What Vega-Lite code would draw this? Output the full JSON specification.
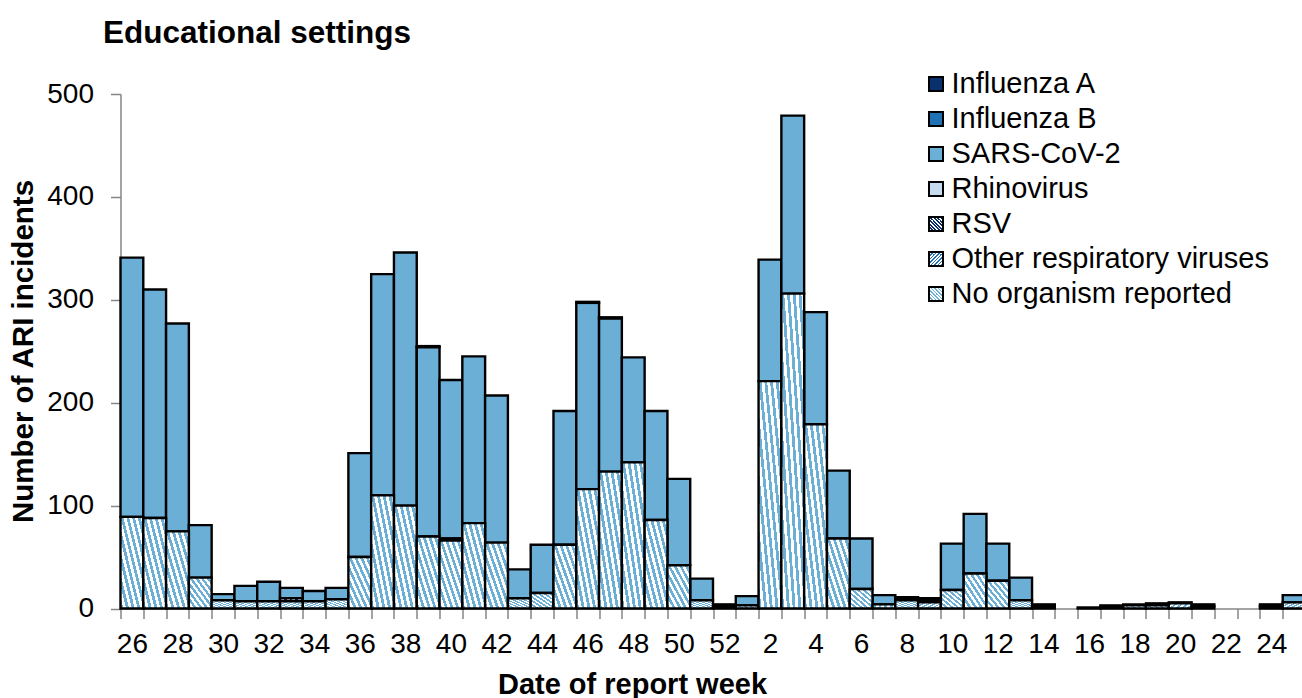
{
  "$schema": "https://vega.github.io/schema/vega-lite/v6.json",
  "autosize": {"type": "none"},
  "padding": {"left": 120.5, "top": 94, "right": 0, "bottom": 89.5},
  "width": 1185,
  "height": 514.5,
  "background": "white",
  "config": {"view": {"stroke": null}, "font": "Liberation Sans"},
  "title": {"text": "Educational settings", "anchor": "start", "frame": "group", "font": "Liberation Sans", "fontSize": 31.5, "fontWeight": "bold", "color": "#000000", "dx": -17.5, "offset": -4.5, "baseline": "alphabetic"},
  "datasets": {
    "ranks": [
      {"organism": "No organism reported", "rank": 1},
      {"organism": "Other respiratory viruses", "rank": 2},
      {"organism": "RSV", "rank": 3},
      {"organism": "Rhinovirus", "rank": 4},
      {"organism": "SARS-CoV-2", "rank": 5},
      {"organism": "Influenza B", "rank": 6},
      {"organism": "Influenza A", "rank": 7}
    ],
    "counts": [
      {"week": "26", "organism": "No organism reported", "n": 89}, {"week": "26", "organism": "SARS-CoV-2", "n": 252},
      {"week": "27", "organism": "No organism reported", "n": 88}, {"week": "27", "organism": "SARS-CoV-2", "n": 222},
      {"week": "28", "organism": "No organism reported", "n": 75}, {"week": "28", "organism": "SARS-CoV-2", "n": 202},
      {"week": "29", "organism": "No organism reported", "n": 30}, {"week": "29", "organism": "SARS-CoV-2", "n": 51},
      {"week": "30", "organism": "No organism reported", "n": 8}, {"week": "30", "organism": "SARS-CoV-2", "n": 6},
      {"week": "31", "organism": "No organism reported", "n": 7}, {"week": "31", "organism": "SARS-CoV-2", "n": 15},
      {"week": "32", "organism": "No organism reported", "n": 7}, {"week": "32", "organism": "SARS-CoV-2", "n": 19},
      {"week": "33", "organism": "No organism reported", "n": 7}, {"week": "33", "organism": "RSV", "n": 3}, {"week": "33", "organism": "SARS-CoV-2", "n": 10},
      {"week": "34", "organism": "No organism reported", "n": 7}, {"week": "34", "organism": "SARS-CoV-2", "n": 10},
      {"week": "35", "organism": "No organism reported", "n": 9}, {"week": "35", "organism": "SARS-CoV-2", "n": 11},
      {"week": "36", "organism": "No organism reported", "n": 50}, {"week": "36", "organism": "SARS-CoV-2", "n": 101},
      {"week": "37", "organism": "No organism reported", "n": 110}, {"week": "37", "organism": "SARS-CoV-2", "n": 215},
      {"week": "38", "organism": "No organism reported", "n": 100}, {"week": "38", "organism": "SARS-CoV-2", "n": 246},
      {"week": "39", "organism": "No organism reported", "n": 70}, {"week": "39", "organism": "SARS-CoV-2", "n": 184}, {"week": "39", "organism": "Influenza A", "n": 1},
      {"week": "40", "organism": "No organism reported", "n": 66}, {"week": "40", "organism": "Other respiratory viruses", "n": 2}, {"week": "40", "organism": "SARS-CoV-2", "n": 154},
      {"week": "41", "organism": "No organism reported", "n": 83}, {"week": "41", "organism": "SARS-CoV-2", "n": 162},
      {"week": "42", "organism": "No organism reported", "n": 64}, {"week": "42", "organism": "SARS-CoV-2", "n": 143},
      {"week": "43", "organism": "No organism reported", "n": 10}, {"week": "43", "organism": "SARS-CoV-2", "n": 28},
      {"week": "44", "organism": "No organism reported", "n": 15}, {"week": "44", "organism": "SARS-CoV-2", "n": 47},
      {"week": "45", "organism": "No organism reported", "n": 62}, {"week": "45", "organism": "SARS-CoV-2", "n": 130},
      {"week": "46", "organism": "No organism reported", "n": 116}, {"week": "46", "organism": "SARS-CoV-2", "n": 181}, {"week": "46", "organism": "Influenza A", "n": 1},
      {"week": "47", "organism": "No organism reported", "n": 133}, {"week": "47", "organism": "SARS-CoV-2", "n": 149}, {"week": "47", "organism": "Influenza A", "n": 1},
      {"week": "48", "organism": "No organism reported", "n": 142}, {"week": "48", "organism": "SARS-CoV-2", "n": 102},
      {"week": "49", "organism": "No organism reported", "n": 86}, {"week": "49", "organism": "SARS-CoV-2", "n": 106},
      {"week": "50", "organism": "No organism reported", "n": 42}, {"week": "50", "organism": "SARS-CoV-2", "n": 84},
      {"week": "51", "organism": "No organism reported", "n": 8}, {"week": "51", "organism": "SARS-CoV-2", "n": 21},
      {"week": "52", "organism": "No organism reported", "n": 2}, {"week": "52", "organism": "SARS-CoV-2", "n": 2},
      {"week": "1", "organism": "No organism reported", "n": 3}, {"week": "1", "organism": "SARS-CoV-2", "n": 9},
      {"week": "2", "organism": "No organism reported", "n": 221}, {"week": "2", "organism": "SARS-CoV-2", "n": 118},
      {"week": "3", "organism": "No organism reported", "n": 306}, {"week": "3", "organism": "SARS-CoV-2", "n": 173},
      {"week": "4", "organism": "No organism reported", "n": 179}, {"week": "4", "organism": "SARS-CoV-2", "n": 109},
      {"week": "5", "organism": "No organism reported", "n": 68}, {"week": "5", "organism": "SARS-CoV-2", "n": 66},
      {"week": "6", "organism": "No organism reported", "n": 19}, {"week": "6", "organism": "SARS-CoV-2", "n": 49},
      {"week": "7", "organism": "No organism reported", "n": 4}, {"week": "7", "organism": "SARS-CoV-2", "n": 9},
      {"week": "8", "organism": "No organism reported", "n": 8}, {"week": "8", "organism": "SARS-CoV-2", "n": 2}, {"week": "8", "organism": "Influenza A", "n": 1},
      {"week": "9", "organism": "No organism reported", "n": 6}, {"week": "9", "organism": "SARS-CoV-2", "n": 2}, {"week": "9", "organism": "Influenza A", "n": 2},
      {"week": "10", "organism": "No organism reported", "n": 18}, {"week": "10", "organism": "SARS-CoV-2", "n": 45},
      {"week": "11", "organism": "No organism reported", "n": 34}, {"week": "11", "organism": "SARS-CoV-2", "n": 58},
      {"week": "12", "organism": "No organism reported", "n": 27}, {"week": "12", "organism": "SARS-CoV-2", "n": 36},
      {"week": "13", "organism": "No organism reported", "n": 8}, {"week": "13", "organism": "SARS-CoV-2", "n": 22},
      {"week": "14", "organism": "No organism reported", "n": 2}, {"week": "14", "organism": "SARS-CoV-2", "n": 2},
      {"week": "16", "organism": "No organism reported", "n": 1},
      {"week": "17", "organism": "No organism reported", "n": 2}, {"week": "17", "organism": "SARS-CoV-2", "n": 1},
      {"week": "18", "organism": "No organism reported", "n": 3}, {"week": "18", "organism": "SARS-CoV-2", "n": 1},
      {"week": "19", "organism": "No organism reported", "n": 3}, {"week": "19", "organism": "SARS-CoV-2", "n": 2},
      {"week": "20", "organism": "No organism reported", "n": 5}, {"week": "20", "organism": "SARS-CoV-2", "n": 1},
      {"week": "21", "organism": "No organism reported", "n": 2}, {"week": "21", "organism": "SARS-CoV-2", "n": 2},
      {"week": "24", "organism": "No organism reported", "n": 2}, {"week": "24", "organism": "SARS-CoV-2", "n": 2},
      {"week": "25", "organism": "No organism reported", "n": 6}, {"week": "25", "organism": "SARS-CoV-2", "n": 7}
    ]
  },
  "data": {"name": "counts"},
  "transform": [
    {"lookup": "organism", "from": {"data": {"name": "ranks"}, "key": "organism", "fields": ["rank"]}},
    {"stack": "n", "groupby": ["week"], "sort": [{"field": "rank", "order": "ascending"}], "as": ["lo", "hi"], "offset": "zero"}
  ],
  "encoding": {
    "x": {
      "field": "week", "type": "ordinal",
      "scale": {"domain": ["26","27","28","29","30","31","32","33","34","35","36","37","38","39","40","41","42","43","44","45","46","47","48","49","50","51","52","1","2","3","4","5","6","7","8","9","10","11","12","13","14","15","16","17","18","19","20","21","22","23","24","25"], "paddingInner": 0, "paddingOuter": 0},
      "axis": {
        "title": "Date of report week", "labelAngle": 0, "tickBand": "extent", "labelOverlap": false,
        "labelExpr": "toNumber(datum.value) % 2 === 0 ? datum.label : ''",
        "labelFont": "Liberation Sans", "labelFontSize": 28, "labelColor": "#000000", "labelPadding": 34, "labelBaseline": "alphabetic",
        "tickSize": 10, "tickColor": "#868686", "tickWidth": 1.5, "domainColor": "#868686", "domainWidth": 1.5,
        "titleFont": "Liberation Sans", "titleFontSize": 29, "titleFontWeight": "bold", "titleColor": "#000000",
        "titleX": 511.5, "titleY": 84.5, "titleBaseline": "alphabetic", "titleAlign": "center"
      }
    },
    "y": {
      "field": "lo", "type": "quantitative",
      "scale": {"domain": [0, 500], "nice": false},
      "axis": {
        "title": "Number of ARI incidents", "values": [0, 100, 200, 300, 400, 500], "grid": false,
        "labelFont": "Liberation Sans", "labelFontSize": 28, "labelColor": "#000000", "labelPadding": 17,
        "tickSize": 10, "tickColor": "#868686", "tickWidth": 1.5, "domainColor": "#868686", "domainWidth": 1.5,
        "titleFont": "Liberation Sans", "titleFontSize": 29.5, "titleFontWeight": "bold", "titleColor": "#000000",
        "titleX": -88.5, "titleY": 257, "titleAngle": 270, "titleBaseline": "alphabetic", "titleAlign": "center"
      }
    },
    "y2": {"field": "hi"}
  },
  "resolve": {"scale": {"stroke": "independent"}, "legend": {"stroke": "independent"}},
  "layer": [
    {
      "transform": [{"filter": {"field": "organism", "oneOf": ["Influenza A", "Influenza B", "SARS-CoV-2", "Rhinovirus"]}}],
      "mark": {"type": "bar", "stroke": "#000000", "strokeWidth": 2.4},
      "encoding": {
        "fill": {
          "field": "organism", "type": "nominal",
          "scale": {
            "domain": ["Influenza A", "Influenza B", "SARS-CoV-2", "Rhinovirus"],
            "range": ["#08306b", "#2171b5", "#6baed6", "#c6dbef"]
          },
          "legend": {
            "title": null, "orient": "none", "legendX": 801, "legendY": -24.5, "padding": 0,
            "labelFont": "Liberation Sans", "labelFontSize": 29, "labelColor": "#000000", "labelLimit": 0, "labelOffset": 1,
            "symbolType": "square", "symbolSize": 196, "symbolStrokeColor": "#000000", "symbolStrokeWidth": 2, "rowPadding": 5
          }
        }
      }
    },
    {
      "transform": [{"filter": "datum.organism === 'RSV'"}],
      "mark": {"type": "bar", "strokeWidth": 2.4, "fill": {"gradient": "linear", "x1": 0, "y1": 1, "x2": 1, "y2": 0, "stops": [{"offset":0,"color":"#08306b"},{"offset":0.0625,"color":"#08306b"},{"offset":0.0625,"color":"#ffffff"},{"offset":0.125,"color":"#ffffff"},{"offset":0.125,"color":"#08306b"},{"offset":0.1875,"color":"#08306b"},{"offset":0.1875,"color":"#ffffff"},{"offset":0.25,"color":"#ffffff"},{"offset":0.25,"color":"#08306b"},{"offset":0.3125,"color":"#08306b"},{"offset":0.3125,"color":"#ffffff"},{"offset":0.375,"color":"#ffffff"},{"offset":0.375,"color":"#08306b"},{"offset":0.4375,"color":"#08306b"},{"offset":0.4375,"color":"#ffffff"},{"offset":0.5,"color":"#ffffff"},{"offset":0.5,"color":"#08306b"},{"offset":0.5625,"color":"#08306b"},{"offset":0.5625,"color":"#ffffff"},{"offset":0.625,"color":"#ffffff"},{"offset":0.625,"color":"#08306b"},{"offset":0.6875,"color":"#08306b"},{"offset":0.6875,"color":"#ffffff"},{"offset":0.75,"color":"#ffffff"},{"offset":0.75,"color":"#08306b"},{"offset":0.8125,"color":"#08306b"},{"offset":0.8125,"color":"#ffffff"},{"offset":0.875,"color":"#ffffff"},{"offset":0.875,"color":"#08306b"},{"offset":0.9375,"color":"#08306b"},{"offset":0.9375,"color":"#ffffff"},{"offset":1,"color":"#ffffff"}]}},
      "encoding": {
        "stroke": {
          "field": "organism", "type": "nominal", "scale": {"range": ["#000000"]},
          "legend": {
            "title": null, "orient": "none", "legendX": 801, "legendY": 115.5, "padding": 0,
            "labelFont": "Liberation Sans", "labelFontSize": 29, "labelColor": "#000000", "labelLimit": 0, "labelOffset": 1,
            "symbolType": "square", "symbolSize": 196, "symbolStrokeWidth": 2
          }
        }
      }
    },
    {
      "transform": [{"filter": "datum.organism === 'Other respiratory viruses'"}],
      "mark": {"type": "bar", "strokeWidth": 2.4, "fill": {"gradient": "linear", "x1": 0, "y1": 0, "x2": 1, "y2": 1, "stops": [{"offset":0,"color":"#2171b5"},{"offset":0.0625,"color":"#2171b5"},{"offset":0.0625,"color":"#ffffff"},{"offset":0.125,"color":"#ffffff"},{"offset":0.125,"color":"#2171b5"},{"offset":0.1875,"color":"#2171b5"},{"offset":0.1875,"color":"#ffffff"},{"offset":0.25,"color":"#ffffff"},{"offset":0.25,"color":"#2171b5"},{"offset":0.3125,"color":"#2171b5"},{"offset":0.3125,"color":"#ffffff"},{"offset":0.375,"color":"#ffffff"},{"offset":0.375,"color":"#2171b5"},{"offset":0.4375,"color":"#2171b5"},{"offset":0.4375,"color":"#ffffff"},{"offset":0.5,"color":"#ffffff"},{"offset":0.5,"color":"#2171b5"},{"offset":0.5625,"color":"#2171b5"},{"offset":0.5625,"color":"#ffffff"},{"offset":0.625,"color":"#ffffff"},{"offset":0.625,"color":"#2171b5"},{"offset":0.6875,"color":"#2171b5"},{"offset":0.6875,"color":"#ffffff"},{"offset":0.75,"color":"#ffffff"},{"offset":0.75,"color":"#2171b5"},{"offset":0.8125,"color":"#2171b5"},{"offset":0.8125,"color":"#ffffff"},{"offset":0.875,"color":"#ffffff"},{"offset":0.875,"color":"#2171b5"},{"offset":0.9375,"color":"#2171b5"},{"offset":0.9375,"color":"#ffffff"},{"offset":1,"color":"#ffffff"}]}},
      "encoding": {
        "stroke": {
          "field": "organism", "type": "nominal", "scale": {"range": ["#000000"]},
          "legend": {
            "title": null, "orient": "none", "legendX": 801, "legendY": 150.5, "padding": 0,
            "labelFont": "Liberation Sans", "labelFontSize": 29, "labelColor": "#000000", "labelLimit": 0, "labelOffset": 1,
            "symbolType": "square", "symbolSize": 196, "symbolStrokeWidth": 2
          }
        }
      }
    },
    {
      "transform": [{"filter": "datum.organism === 'No organism reported'"}],
      "mark": {"type": "bar", "strokeWidth": 2.4, "fill": {"gradient": "linear", "x1": 0, "y1": 1, "x2": 1, "y2": 0, "stops": [{"offset":0,"color":"#6baed6"},{"offset":0.0625,"color":"#6baed6"},{"offset":0.0625,"color":"#ffffff"},{"offset":0.125,"color":"#ffffff"},{"offset":0.125,"color":"#6baed6"},{"offset":0.1875,"color":"#6baed6"},{"offset":0.1875,"color":"#ffffff"},{"offset":0.25,"color":"#ffffff"},{"offset":0.25,"color":"#6baed6"},{"offset":0.3125,"color":"#6baed6"},{"offset":0.3125,"color":"#ffffff"},{"offset":0.375,"color":"#ffffff"},{"offset":0.375,"color":"#6baed6"},{"offset":0.4375,"color":"#6baed6"},{"offset":0.4375,"color":"#ffffff"},{"offset":0.5,"color":"#ffffff"},{"offset":0.5,"color":"#6baed6"},{"offset":0.5625,"color":"#6baed6"},{"offset":0.5625,"color":"#ffffff"},{"offset":0.625,"color":"#ffffff"},{"offset":0.625,"color":"#6baed6"},{"offset":0.6875,"color":"#6baed6"},{"offset":0.6875,"color":"#ffffff"},{"offset":0.75,"color":"#ffffff"},{"offset":0.75,"color":"#6baed6"},{"offset":0.8125,"color":"#6baed6"},{"offset":0.8125,"color":"#ffffff"},{"offset":0.875,"color":"#ffffff"},{"offset":0.875,"color":"#6baed6"},{"offset":0.9375,"color":"#6baed6"},{"offset":0.9375,"color":"#ffffff"},{"offset":1,"color":"#ffffff"}]}},
      "encoding": {
        "stroke": {
          "field": "organism", "type": "nominal", "scale": {"range": ["#000000"]},
          "legend": {
            "title": null, "orient": "none", "legendX": 801, "legendY": 185.5, "padding": 0,
            "labelFont": "Liberation Sans", "labelFontSize": 29, "labelColor": "#000000", "labelLimit": 0, "labelOffset": 1,
            "symbolType": "square", "symbolSize": 196, "symbolStrokeWidth": 2
          }
        }
      }
    }
  ]
}
